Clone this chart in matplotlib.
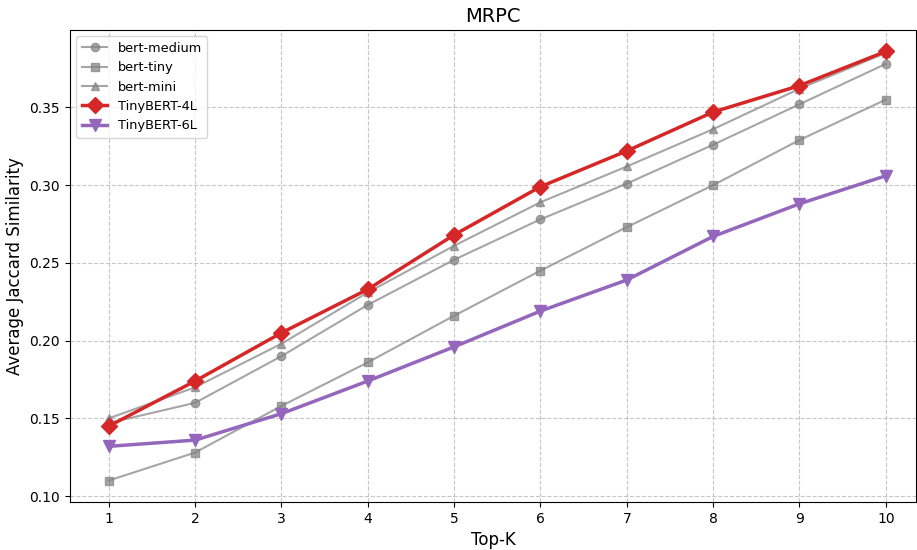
import numpy as np
import matplotlib
matplotlib.use("Agg")
import matplotlib.pyplot as plt

top_k = [1, 2, 3, 4, 5, 6, 7, 8, 9, 10]
bert_medium = [0.147, 0.160, 0.190, 0.223, 0.252, 0.278, 0.301, 0.326, 0.352, 0.378]
bert_tiny = [0.110, 0.128, 0.158, 0.186, 0.216, 0.245, 0.273, 0.300, 0.329, 0.355]
bert_mini = [0.150, 0.170, 0.198, 0.231, 0.261, 0.289, 0.312, 0.336, 0.362, 0.385]
tinybert_4l = [0.145, 0.174, 0.205, 0.233, 0.268, 0.299, 0.322, 0.347, 0.364, 0.386]
tinybert_6l = [0.132, 0.136, 0.153, 0.174, 0.196, 0.219, 0.239, 0.267, 0.288, 0.306]

fig = plt.figure(figsize=(9.17, 5.5), dpi=100)
ax = fig.add_axes([0.0763, 0.0873, 0.9226, 0.8582])

ax.plot(top_k, bert_medium, marker='o', color='gray', alpha=0.7, lw=1.5, ms=6, label='bert-medium')
ax.plot(top_k, bert_tiny, marker='s', color='gray', alpha=0.7, lw=1.5, ms=6, label='bert-tiny')
ax.plot(top_k, bert_mini, marker='^', color='gray', alpha=0.7, lw=1.5, ms=6, label='bert-mini')
ax.plot(top_k, tinybert_4l, marker='D', color='#d62728', lw=2.5, ms=8, label='TinyBERT-4L')
ax.plot(top_k, tinybert_6l, marker='v', color='#9467bd', lw=2.5, ms=9, label='TinyBERT-6L')

ax.set_xlim(0.55, 10.35)
ax.set_xticks(top_k)
ax.set_title('MRPC', fontsize=14)
ax.set_xlabel('Top-K', fontsize=12)
ax.set_ylabel('Average Jaccard Similarity', fontsize=12)
ax.grid(True, linestyle='--', alpha=0.7)
ax.legend(loc='upper left', fontsize=9.3)

fig.savefig('out.png', dpi=100)
